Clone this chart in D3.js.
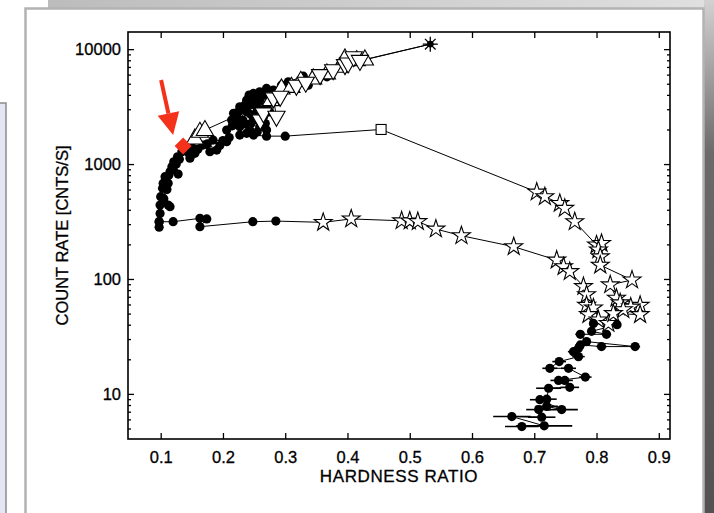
<!DOCTYPE html>
<html>
<head>
<meta charset="utf-8">
<script src="https://cdn.jsdelivr.net/npm/d3@7"></script>
<style>
  html, body { margin: 0; padding: 0; background: #fff; }
  svg { display: block; }
  text { font-family: "Liberation Sans", Arial, Helvetica, sans-serif; fill: #000; }
</style>
</head>
<body>
<svg id="chart" width="714" height="513"></svg>
<script>
// ---- data: [hardness ratio, count rate] ----
const xTicks = [0.1, 0.2, 0.3, 0.4, 0.5, 0.6, 0.7, 0.8, 0.9];
const yTicks = [10, 100, 1000, 10000];
const xLabel = "HARDNESS RATIO";
const yLabel = "COUNT RATE [CNTS/S]";

// rise along the soft branch (filled circles)
const riseCircles = [
  [0.099, 440], [0.100, 520], [0.105, 500], [0.112, 440], [0.115, 426], [0.103, 615],
  [0.110, 600], [0.104, 680], [0.108, 700], [0.112, 680], [0.107, 776], [0.113, 800],
  [0.115, 857], [0.120, 900], [0.128, 818], [0.118, 948], [0.125, 1000], [0.121, 1047],
  [0.130, 1100], [0.127, 1157], [0.134, 1280], [0.147, 1123], [0.145, 1250], [0.155, 1240],
  [0.139, 1324], [0.150, 1400], [0.160, 1350], [0.168, 1462], [0.179, 1280], [0.175, 1500],
  [0.190, 1324], [0.195, 1450], [0.184, 1617], [0.200, 1600], [0.206, 1563], [0.210, 1700],
  [0.206, 1977], [0.214, 2415], [0.217, 2762], [0.215, 2150], [0.222, 2577], [0.227, 2110],
  [0.223, 2335], [0.227, 1786], [0.238, 1850], [0.232, 2415], [0.238, 2850], [0.225, 2850],
  [0.227, 3150], [0.235, 2250], [0.245, 2250], [0.243, 1977], [0.249, 2415], [0.245, 2700],
  [0.255, 2600], [0.254, 3150], [0.235, 3250], [0.245, 3300], [0.238, 3600], [0.250, 3375],
  [0.259, 2110], [0.265, 2577], [0.262, 2300], [0.270, 1977], [0.268, 2250], [0.255, 1900],
  [0.262, 2900], [0.255, 2850], [0.268, 3100], [0.273, 3375], [0.259, 3600], [0.248, 3700],
  [0.242, 3980], [0.249, 4120], [0.252, 3850], [0.259, 4260], [0.265, 3980], [0.275, 2850],
  [0.270, 4550], [0.281, 4400], [0.294, 4860], [0.305, 5200], [0.329, 5820], [0.337, 4860],
  [0.367, 5740]
];

// open triangles near the top of the branch
const upTriangles = [
  [0.155, 1671], [0.163, 1911], [0.171, 1977], [0.277, 3600], [0.294, 4550], [0.310, 4700],
  [0.325, 5300], [0.345, 5560], [0.367, 6150], [0.388, 7020], [0.396, 8300], [0.415, 8020],
  [0.428, 8130]
];
const downTriangles = [
  [0.260, 2400], [0.265, 2760], [0.286, 2577], [0.281, 3730], [0.292, 3850], [0.318, 4800],
  [0.333, 5100], [0.356, 5940], [0.377, 6560], [0.396, 7260], [0.401, 7500], [0.410, 8500],
  [0.420, 7900]
];
const peak = [0.533, 11050];

// decay from the bright branch: circles, a square, then stars
const decayCircles = [[0.249, 1786], [0.270, 1750], [0.300, 1750]];
const transitionSquare = [0.454, 2000];
const decayStars = [
  [0.704, 571], [0.717, 520], [0.741, 455], [0.749, 412], [0.765, 315], [0.800, 198],
  [0.808, 204], [0.803, 179], [0.806, 156], [0.806, 132], [0.857, 98], [0.822, 89],
  [0.832, 68], [0.870, 59], [0.838, 62], [0.855, 57], [0.843, 54], [0.870, 49], [0.827, 50]
];

// faint track starting on the soft side (circles, then stars)
const faintCircles = [
  [0.0975, 282], [0.0975, 315], [0.099, 372], [0.0975, 315], [0.120, 315], [0.163, 337],
  [0.174, 333], [0.163, 285], [0.248, 315], [0.285, 319]
];
const faintStars = [
  [0.361, 311], [0.406, 333], [0.487, 321], [0.500, 320], [0.513, 316], [0.542, 272],
  [0.583, 238], [0.667, 191], [0.736, 146], [0.747, 128], [0.757, 116], [0.779, 86],
  [0.784, 73], [0.784, 59], [0.795, 56], [0.787, 49], [0.803, 44], [0.819, 41]
];

// final decay with hardness uncertainty: [hr, rate, hr error]
const tailCircles = [
  [0.795, 41, 0.006], [0.833, 40, 0.006], [0.792, 35, 0.006], [0.816, 33, 0.007],
  [0.774, 33, 0.008], [0.784, 28.5, 0.007], [0.862, 25.8, 0.008], [0.808, 25.8, 0.008],
  [0.774, 26.7, 0.008], [0.771, 25, 0.008], [0.763, 23.3, 0.009], [0.771, 21.1, 0.010],
  [0.740, 19.1, 0.011], [0.725, 16.7, 0.012], [0.755, 16.7, 0.012], [0.782, 14, 0.010],
  [0.739, 13.1, 0.013], [0.749, 13.1, 0.013], [0.757, 11.4, 0.015], [0.723, 11.2, 0.020],
  [0.720, 9.0, 0.016], [0.709, 8.9, 0.016], [0.744, 7.3, 0.026], [0.720, 7.8, 0.018],
  [0.707, 7.3, 0.020], [0.712, 6.27, 0.022], [0.664, 6.35, 0.030], [0.716, 5.27, 0.045],
  [0.680, 5.2, 0.027]
];

// highlighted observation
const marked = [0.136, 1436];

// ---- layout ----
const svg = d3.select("#chart");
const W = 714, H = 513;
const plot = { left: 128, right: 670, top: 32, bottom: 439 };

const x = d3.scaleLinear().domain([0.0475, 0.918]).range([plot.left, plot.right]);
const y = d3.scaleLog().domain([4.05, 14100]).range([plot.bottom, plot.top]);

// ---- page backdrop ----
const defs = svg.append("defs");
const gTop = defs.append("linearGradient").attr("id", "topStrip").attr("x1", 0).attr("x2", 1).attr("y1", 0).attr("y2", 0);
gTop.append("stop").attr("offset", 0).attr("stop-color", "#bcbcbc");
gTop.append("stop").attr("offset", 1).attr("stop-color", "#e0e0e0");
const gRight = defs.append("linearGradient").attr("id", "rightStrip").attr("x1", 0).attr("x2", 0).attr("y1", 0).attr("y2", 1);
gRight.append("stop").attr("offset", 0).attr("stop-color", "#d2d2d2");
gRight.append("stop").attr("offset", 0.3).attr("stop-color", "#6a6a6a");
gRight.append("stop").attr("offset", 1).attr("stop-color", "#525252");

svg.append("rect").attr("width", W).attr("height", H).attr("fill", "#fff");
svg.append("rect").attr("x", 48).attr("y", 0).attr("width", W - 48).attr("height", 8).attr("fill", "url(#topStrip)");
svg.append("rect").attr("x", 704).attr("y", 0).attr("width", 10).attr("height", H).attr("fill", "url(#rightStrip)");
svg.append("rect").attr("x", -3).attr("y", 103).attr("width", 9).attr("height", H)
  .attr("fill", "#e5e6f3").attr("stroke", "#8c8c8c").attr("stroke-width", 1.5);
svg.append("rect").attr("x", 25.5).attr("y", 8.5).attr("width", 678).attr("height", H + 10)
  .attr("fill", "#fff").attr("stroke", "#b3b3b3").attr("stroke-width", 2.5);

// ---- axes ----
const minorTicks = [];
for (let e = 0; e <= 4; e++) {
  for (let m = 2; m <= 9; m++) {
    const v = m * Math.pow(10, e);
    if (v > 4.05 && v < 14100) minorTicks.push(v);
  }
}

function styleAxis(g) {
  g.select(".domain").remove();
  g.selectAll(".tick line").attr("stroke", "#000").attr("stroke-width", 1.3);
  g.selectAll("text").style("font-size", "16.5px").attr("fill", "#000")
    .attr("stroke", "#000").attr("stroke-width", 0.3);
}

svg.append("g").attr("transform", `translate(0,${plot.bottom})`)
  .call(d3.axisBottom(x).tickValues(xTicks).tickSize(-6).tickPadding(12).tickFormat(d3.format(".1f")))
  .call(styleAxis);
svg.append("g").attr("transform", `translate(0,${plot.top})`)
  .call(d3.axisTop(x).tickValues(xTicks).tickSize(-6).tickFormat(""))
  .call(styleAxis);
svg.append("g").attr("transform", `translate(${plot.left},0)`)
  .call(d3.axisLeft(y).tickValues(yTicks).tickSize(-6).tickPadding(7).tickFormat(d3.format("d")))
  .call(styleAxis);
svg.append("g").attr("transform", `translate(${plot.left},0)`)
  .call(d3.axisLeft(y).tickValues(minorTicks).tickSize(-3).tickFormat(""))
  .call(styleAxis);
svg.append("g").attr("transform", `translate(${plot.right},0)`)
  .call(d3.axisRight(y).tickValues(yTicks).tickSize(-6).tickFormat(""))
  .call(styleAxis);
svg.append("g").attr("transform", `translate(${plot.right},0)`)
  .call(d3.axisRight(y).tickValues(minorTicks).tickSize(-3).tickFormat(""))
  .call(styleAxis);

svg.append("rect")
  .attr("x", plot.left).attr("y", plot.top)
  .attr("width", plot.right - plot.left).attr("height", plot.bottom - plot.top)
  .attr("fill", "none").attr("stroke", "#000").attr("stroke-width", 1.6);

svg.append("text")
  .attr("x", (plot.left + plot.right) / 2).attr("y", 482)
  .attr("text-anchor", "middle").style("font-size", "17px").style("letter-spacing", "0.6px")
  .attr("stroke", "#000").attr("stroke-width", 0.3)
  .text(xLabel);
svg.append("text")
  .attr("transform", `translate(68,${(plot.top + plot.bottom) / 2}) rotate(-90)`)
  .attr("text-anchor", "middle").style("font-size", "16.5px")
  .attr("stroke", "#000").attr("stroke-width", 0.3)
  .text(yLabel);

// ---- tracks ----
const line = d3.line().x(d => x(d[0])).y(d => y(d[1]));
const tracks = svg.append("g").attr("fill", "none").attr("stroke", "#000").attr("stroke-width", 1);

tracks.append("path").attr("d", line(riseCircles));
tracks.append("path").attr("d", line([...upTriangles, peak]));
tracks.append("path").attr("d", line([...downTriangles, peak]));
tracks.append("path").attr("d", line([...decayCircles, transitionSquare, ...decayStars, tailCircles[1]]));
tracks.append("path").attr("d", line([...faintCircles, ...faintStars, tailCircles[0]]));
tracks.append("path").attr("d", line(tailCircles));

// hardness error bars
svg.append("g").selectAll("line").data(tailCircles).join("line")
  .attr("x1", d => x(d[0] - d[2])).attr("x2", d => x(d[0] + d[2]))
  .attr("y1", d => y(d[1])).attr("y2", d => y(d[1]))
  .attr("stroke", "#000").attr("stroke-width", 1.6);

// ---- markers ----
const starPath = d3.symbol(d3.symbolStar, 100)();
const triUp = "M0,-9.5L8.6,5.5L-8.6,5.5Z";
const triDown = "M0,9.5L8.6,-5.5L-8.6,-5.5Z";

function openMarks(data, path) {
  svg.append("g").selectAll("path").data(data).join("path")
    .attr("transform", d => `translate(${x(d[0])},${y(d[1])})`)
    .attr("d", path).attr("fill", "#fff").attr("stroke", "#000").attr("stroke-width", 1.1);
}
function dots(data) {
  svg.append("g").selectAll("circle").data(data).join("circle")
    .attr("cx", d => x(d[0])).attr("cy", d => y(d[1])).attr("r", 4.6).attr("fill", "#000");
}

dots(riseCircles);
dots(faintCircles);
dots(decayCircles);
openMarks(faintStars, starPath);
openMarks(decayStars, starPath);
openMarks(upTriangles, triUp);
openMarks(downTriangles, triDown);
dots(tailCircles);

svg.append("rect")
  .attr("x", x(transitionSquare[0]) - 5).attr("y", y(transitionSquare[1]) - 5)
  .attr("width", 10).attr("height", 10)
  .attr("fill", "#fff").attr("stroke", "#000").attr("stroke-width", 1.1);

// peak: asterisk
const pk = svg.append("g").attr("transform", `translate(${x(peak[0])},${y(peak[1])})`)
  .attr("stroke", "#000").attr("stroke-width", 1.3);
for (let i = 0; i < 4; i++) {
  const a = i * Math.PI / 4;
  pk.append("line")
    .attr("x1", -7.5 * Math.cos(a)).attr("y1", -7.5 * Math.sin(a))
    .attr("x2", 7.5 * Math.cos(a)).attr("y2", 7.5 * Math.sin(a));
}
pk.append("circle").attr("r", 2.8).attr("fill", "#000");

// highlighted point and pointer
const mx = x(marked[0]), my = y(marked[1]);
const red = "#f4321c";
svg.append("path")
  .attr("transform", `translate(${mx},${my})`)
  .attr("d", "M0,-8.5L8.5,0L0,8.5L-8.5,0Z").attr("fill", red);
const tip = [mx - 10, my - 11], tail = [mx - 22, my - 66];
const ang = Math.atan2(tip[1] - tail[1], tip[0] - tail[0]);
const headLen = 22, headHalf = 11;
const base = [tip[0] - headLen * Math.cos(ang), tip[1] - headLen * Math.sin(ang)];
svg.append("line")
  .attr("x1", tail[0]).attr("y1", tail[1]).attr("x2", base[0]).attr("y2", base[1])
  .attr("stroke", red).attr("stroke-width", 4);
svg.append("path")
  .attr("d", `M${tip[0]},${tip[1]}L${base[0] + headHalf * Math.sin(ang)},${base[1] - headHalf * Math.cos(ang)}L${base[0] - headHalf * Math.sin(ang)},${base[1] + headHalf * Math.cos(ang)}Z`)
  .attr("fill", red);
</script>
</body>
</html>
